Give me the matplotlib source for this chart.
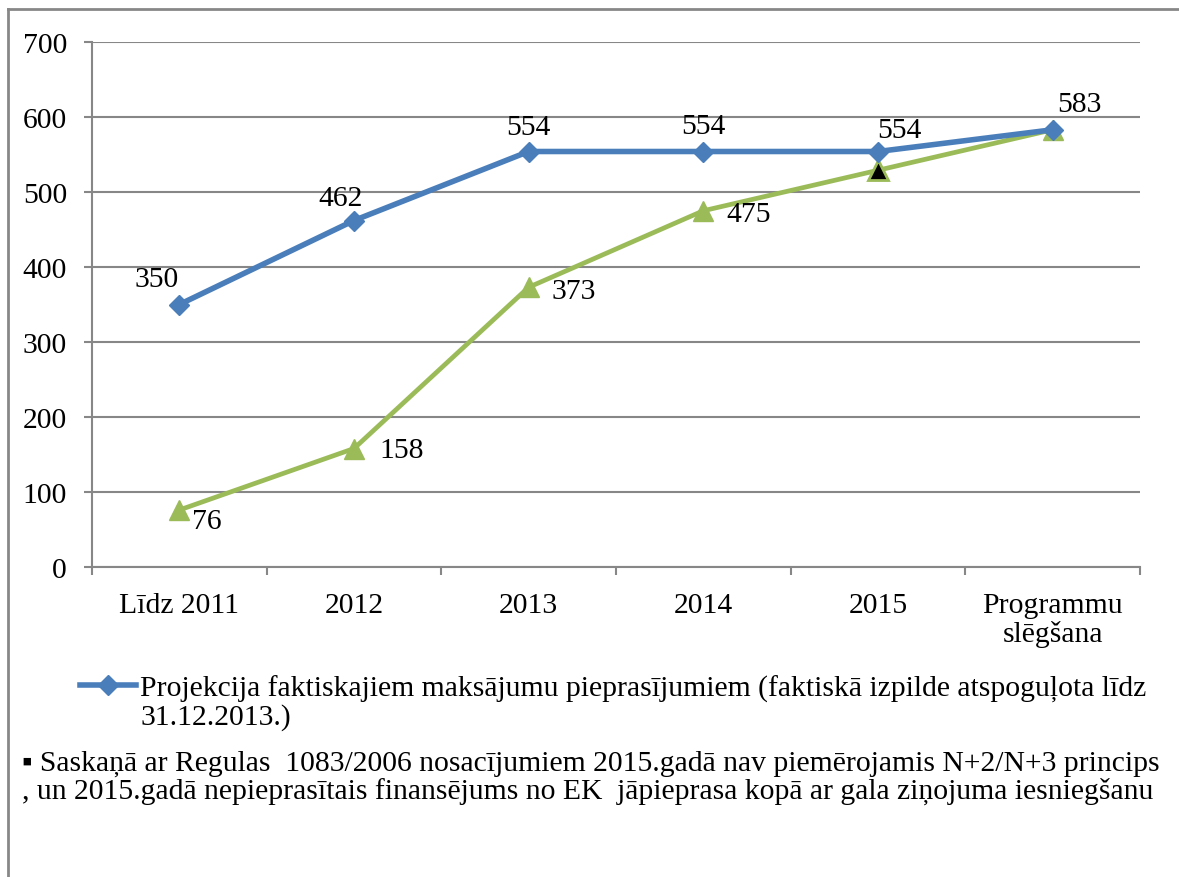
import matplotlib
matplotlib.use('Agg')
import matplotlib.pyplot as plt
from matplotlib.lines import Line2D

categories = ['Līdz 2011', '2012', '2013', '2014', '2015', 'Programmu\nslēgšana']
projection = [350, 462, 554, 554, 554, 583]
actual = [76, 158, 373, 475, 529, 583]
highlight_idx = 4  # black triangle marker on the green line

projection_labels = ['350', '462', '554', '554', '554', '583']
actual_labels = ['76', '158', '373', '475', '', '']

legend_line1 = 'Projekcija faktiskajiem maksājumu pieprasījumiem (faktiskā izpilde atspoguļota līdz'
legend_line2 = '31.12.2013.)'
note_text = ('▪ Saskaņā ar Regulas  1083/2006 nosacījumiem 2015.gadā nav piemērojamis N+2/N+3 princips\n'
             ', un 2015.gadā nepieprasītais finansējums no EK  jāpieprasa kopā ar gala ziņojuma iesniegšanu')

# label offsets in pixels (dx, dy)
proj_offsets = [(-23, 25), (-13, 22), (0, 24), (0, 25), (21, 21), (27, 26)]
act_offsets = [(27, -11), (48, -2), (45, -4), (45, -3), (0, 0), (0, 0)]

plt.rcParams['font.family'] = ['Liberation Serif', 'DejaVu Serif']
fs = 21.3
blue = '#4A7EBB'
green = '#9BBB59'
grey = '#878787'

fig = plt.figure(figsize=(11.79, 8.78), dpi=100)
W, H = 1179, 878
ax = fig.add_axes([92 / W, 1 - 568 / H, (1140 - 92) / W, (568 - 43) / H])

x = list(range(len(categories)))
ax.plot(x, actual, color=green, lw=3.4, marker='^', ms=14, mfc=green, mec=green, zorder=3)
ax.plot([x[highlight_idx]], [actual[highlight_idx]], ls='none', marker='^', ms=14,
        mfc='black', mec=green, mew=2, zorder=4)
ax.plot(x, projection, color=blue, lw=4, marker='D', ms=10.5, mfc=blue, mec=blue, zorder=5)

for i, t in enumerate(projection_labels):
    if t:
        ax.annotate(t, (x[i], projection[i]), xytext=proj_offsets[i], textcoords='offset pixels',
                    ha='center', va='center', fontsize=fs)
for i, t in enumerate(actual_labels):
    if t:
        ax.annotate(t, (x[i], actual[i]), xytext=act_offsets[i], textcoords='offset pixels',
                    ha='center', va='center', fontsize=fs)

ax.set_xlim(-0.5, len(categories) - 0.5)
ax.set_ylim(0, 700)
ax.set_yticks(range(0, 701, 100))
ax.set_xticks(x)
ax.set_xticklabels(categories, fontsize=fs, linespacing=1.1)
ax.set_xticks([i - 0.5 for i in range(len(categories) + 1)], minor=True)
ax.tick_params(axis='x', which='major', length=0, pad=18)
ax.tick_params(axis='x', which='minor', length=6, color=grey, width=1.5, direction='out')
ax.tick_params(axis='y', length=6, color=grey, width=1.5, labelsize=fs, pad=12)
ax.yaxis.grid(True, color=grey, lw=1.5)
ax.set_axisbelow(True)
for s in ['top', 'right']:
    ax.spines[s].set_visible(False)
for s in ['left', 'bottom']:
    ax.spines[s].set_color(grey)
    ax.spines[s].set_linewidth(1.5)

handle = Line2D([], [], color=blue, lw=4, marker='D', ms=10.5)
fig.legend([handle], [legend_line1], loc='center left', bbox_to_anchor=(80 / W, 1 - 689 / H),
           frameon=False, fontsize=fs, handlelength=1.9, handletextpad=0.12, borderpad=0,
           borderaxespad=0)
fig.text(140 / W, 1 - 718 / H, legend_line2, fontsize=fs, ha='left', va='center')
fig.text(22 / W, 1 - 778 / H, note_text, fontsize=fs, ha='left', va='center', linespacing=1.05)

# outer frame (left and top edges visible)
fig.add_artist(Line2D([8 / W, 8 / W], [0, 1 - 10 / H], color=grey, lw=2, transform=fig.transFigure))
fig.add_artist(Line2D([8 / W, 1], [1 - 10 / H, 1 - 10 / H], color=grey, lw=2, transform=fig.transFigure))

fig.savefig('out.png', dpi=100)
